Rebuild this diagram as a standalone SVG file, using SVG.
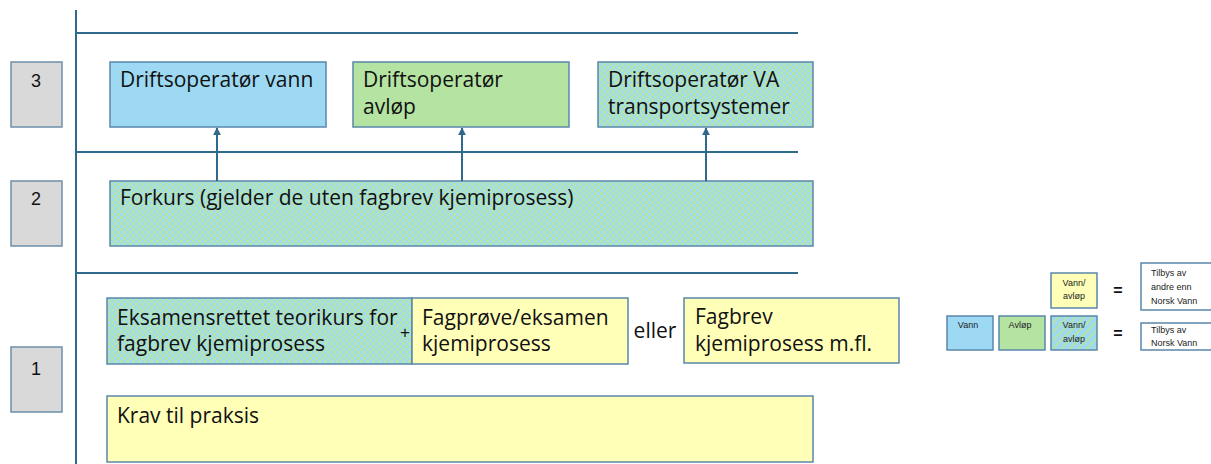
<svg xmlns="http://www.w3.org/2000/svg" width="1211" height="464" viewBox="0 0 1211 464">
<style>
.t{font-family:"Open Sans","Liberation Sans",sans-serif;font-size:21px;fill:#111}
.n{font-family:"Liberation Sans",Arial,sans-serif;font-size:18px;fill:#111;text-anchor:middle}
.s{font-family:"Liberation Sans",Arial,sans-serif;font-size:9px;fill:#222}
.sc{font-family:"Liberation Sans",Arial,sans-serif;font-size:9px;fill:#222;text-anchor:middle}
.lv{fill:#d9d9d9;stroke:#6d8fa8;stroke-width:1.5}
.b{stroke:#5a87ab;stroke-width:1.5}
.blue{fill:#9dd9f3}
.green{fill:#b5e3a2}
.yel{fill:#ffffb8}
.mix{fill:url(#chk)}
.hat{fill:url(#hat)}
.wh{fill:#fff}
.ln{stroke:#2f6a8c;stroke-width:2;fill:none}
</style>
<defs>
<pattern id="chk" width="6" height="6" patternUnits="userSpaceOnUse">
<rect width="6" height="6" fill="#a0dbef"/>
<rect width="3" height="3" fill="#b6e5aa"/>
<rect x="3" y="3" width="3" height="3" fill="#b6e5aa"/>
</pattern>
<pattern id="hat" width="6" height="6" patternUnits="userSpaceOnUse" patternTransform="rotate(45)">
<rect width="6" height="6" fill="#9dd9f3"/>
<rect width="2" height="6" fill="#b5e3a2"/>
</pattern>
<marker id="ah" viewBox="0 0 10 10" refX="9" refY="5" markerWidth="4" markerHeight="4" orient="auto">
<path d="M0,0 L10,5 L0,10 z" fill="#2f6a8c"/>
</marker>
</defs>

<g id="frame">
<line class="ln" x1="76" y1="10" x2="76" y2="464"/>
<line class="ln" x1="76" y1="33" x2="798" y2="33"/>
<line class="ln" x1="76" y1="152" x2="798" y2="152"/>
<line class="ln" x1="76" y1="273" x2="798" y2="273"/>
</g>

<g id="level3"><rect class="lv" x="11" y="62" width="51" height="65"/><text class="n" x="36" y="87">3</text></g>
<g id="level2"><rect class="lv" x="11" y="181" width="51" height="65"/><text class="n" x="36" y="205">2</text></g>
<g id="level1"><rect class="lv" x="11" y="347" width="51" height="65"/><text class="n" x="36" y="375">1</text></g>

<g id="drift-vann"><rect class="b blue" x="110" y="62" width="216" height="65"/><text class="t" x="120" y="87">Driftsoperatør vann</text></g>
<g id="drift-avlop"><rect class="b green" x="353" y="62" width="216" height="65"/><text class="t" x="363" y="87">Driftsoperatør</text><text class="t" x="363" y="114">avløp</text></g>
<g id="drift-va"><rect class="b mix" x="598" y="62" width="215" height="65"/><text class="t" x="608" y="87">Driftsoperatør VA</text><text class="t" x="608" y="114">transportsystemer</text></g>

<g id="forkurs"><rect class="b mix" x="110" y="181" width="703" height="65"/><text class="t" x="120" y="205">Forkurs (gjelder de uten fagbrev kjemiprosess)</text></g>

<g id="eksamen"><rect class="b mix" x="107" y="298" width="305" height="66"/><text class="t" x="117" y="325">Eksamensrettet teorikurs for</text><text class="t" x="117" y="351">fagbrev kjemiprosess</text></g>
<g id="plus"><text x="405" y="338" text-anchor="middle" style="font-family:'Liberation Sans',Arial,sans-serif;font-size:17px;fill:#111">+</text></g>
<g id="fagprove"><rect class="b yel" x="412" y="298" width="216" height="66"/><text class="t" x="422" y="325">Fagprøve/eksamen</text><text class="t" x="422" y="351">kjemiprosess</text></g>
<g id="eller"><text class="t" x="655" y="338" text-anchor="middle">eller</text></g>
<g id="fagbrev"><rect class="b yel" x="684" y="298" width="215" height="65"/><text class="t" x="695" y="324">Fagbrev</text><text class="t" x="695" y="351">kjemiprosess m.fl.</text></g>
<g id="praksis"><rect class="b yel" x="107" y="396" width="706" height="66"/><text class="t" x="117" y="423">Krav til praksis</text></g>

<g id="connectors">
<line class="ln" x1="217" y1="181" x2="217" y2="128" marker-end="url(#ah)"/>
<line class="ln" x1="462" y1="181" x2="462" y2="128" marker-end="url(#ah)"/>
<line class="ln" x1="706" y1="181" x2="706" y2="128" marker-end="url(#ah)"/>
</g>

<g id="legend-other">
<rect class="b yel" x="1051" y="273" width="46" height="35"/>
<text class="sc" x="1074" y="286">Vann/</text><text class="sc" x="1074" y="299">avløp</text>
<text class="n" x="1118" y="296" style="font-size:16px;font-weight:bold">=</text>
<rect class="b wh" x="1141" y="263" width="80" height="47"/>
<text class="s" x="1151" y="276">Tilbys av</text><text class="s" x="1151" y="290">andre enn</text><text class="s" x="1151" y="304">Norsk Vann</text>
</g>
<g id="legend-nv">
<rect class="b blue" x="947" y="316" width="46" height="34"/><text class="sc" x="968" y="328">Vann</text>
<rect class="b green" x="999" y="316" width="46" height="34"/><text class="sc" x="1020" y="328">Avløp</text>
<rect class="b hat" x="1051" y="316" width="46" height="34"/>
<text class="sc" x="1074" y="328">Vann/</text><text class="sc" x="1074" y="342">avløp</text>
<text class="n" x="1118" y="339" style="font-size:16px;font-weight:bold">=</text>
<rect class="b wh" x="1141" y="323" width="80" height="27"/>
<text class="s" x="1151" y="333">Tilbys av</text><text class="s" x="1151" y="346">Norsk Vann</text>
</g>
</svg>
